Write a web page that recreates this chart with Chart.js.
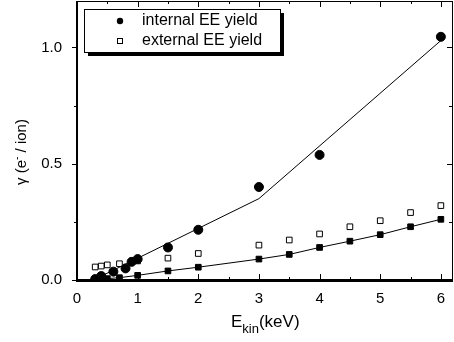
<!DOCTYPE html>
<html>
<head>
<meta charset="utf-8">
<script src="https://cdn.jsdelivr.net/npm/chart.js@4"></script>
<style>
  html, body { margin: 0; padding: 0; background: #fff; }
  #wrap { width: 454px; height: 342px; position: relative; }
</style>
</head>
<body>
<div id="wrap"><canvas id="c"></canvas></div>
<script>
// ── DATA ──────────────────────────────────────────────────────────
const intX = [0.3, 0.4, 0.6, 0.8, 0.9, 1.0, 1.5, 2, 3, 4, 6];
const intY = [0.004, 0.017, 0.036, 0.05, 0.078, 0.09, 0.14, 0.216, 0.40, 0.538, 1.046];

const extX = [0.3, 0.4, 0.5, 0.7, 1.0, 1.5, 2, 3, 3.5, 4, 4.5, 5, 5.5, 6];
const extY = [0.056, 0.06, 0.065, 0.07, 0.082, 0.094, 0.114, 0.15, 0.172, 0.198, 0.229, 0.255, 0.29, 0.32];

const sqX = [0.3, 0.4, 0.5, 0.7, 1.0, 1.5, 2, 3, 3.5, 4, 4.5, 5, 5.5, 6];
const sqY = [0.0, 0.004, 0.006, 0.01, 0.02, 0.039, 0.055, 0.09, 0.11, 0.14, 0.167, 0.195, 0.229, 0.261];

const fitX = [0.27, 3, 6];
const fitY = [0, 0.35, 1.03];

const xTicks = [0, 1, 2, 3, 4, 5, 6];
const yTicks = [0, 0.5, 1.0];
const legendLabels = ['internal EE yield', 'external EE yield'];

const pts = (xs, ys) => xs.map((x, i) => ({ x, y: ys[i] }));
const FONT = '"Liberation Sans", Arial, sans-serif';

// ── FRAME, TICKS, LEGEND, TITLES ─────────────────────────────────
const decor = {
  id: 'decor',
  afterDraw(chart) {
    const { ctx, chartArea: a, scales: { x, y } } = chart;
    ctx.save();
    ctx.strokeStyle = '#000';
    ctx.lineWidth = 1;
    ctx.strokeRect(a.left + 0.5, a.top + 0.5, a.right - a.left - 1, a.bottom - a.top - 1);
    ctx.lineWidth = 2;
    ctx.beginPath();
    ctx.moveTo(a.left, a.top); ctx.lineTo(a.left, a.bottom + 1); ctx.lineTo(a.right, a.bottom + 1);
    ctx.stroke();

    ctx.lineWidth = 1;
    ctx.beginPath();
    for (let v = 0; v <= 6.01; v += 0.5) {
      const px = Math.round(x.getPixelForValue(v)) + 0.5;
      const len = Number.isInteger(v) ? 6 : 3;
      ctx.moveTo(px, a.bottom); ctx.lineTo(px, a.bottom - len);
      ctx.moveTo(px, a.top); ctx.lineTo(px, a.top + len);
    }
    for (let v = 0; v <= 1.01; v += 0.25) {
      const py = Math.round(y.getPixelForValue(v)) + 0.5;
      const len = Math.abs(v * 2 - Math.round(v * 2)) < 1e-6 ? 5 : 3;
      ctx.moveTo(a.left, py); ctx.lineTo(a.left - len, py);
      ctx.moveTo(a.right, py); ctx.lineTo(a.right - len - 1, py);
    }
    ctx.stroke();

    // legend box with shadow
    const bx = 84, by = 9, bw = 196, bh = 43;
    ctx.fillStyle = '#000';
    ctx.fillRect(bx + 4, by + 4, bw, bh);
    ctx.fillStyle = '#fff';
    ctx.fillRect(bx, by, bw, bh);
    ctx.strokeRect(bx + 0.5, by + 0.5, bw, bh);

    ctx.fillStyle = '#000';
    ctx.beginPath();
    ctx.arc(120, 21, 3.2, 0, Math.PI * 2);
    ctx.fill();
    ctx.strokeRect(117.5, 38.5, 5, 5);

    ctx.font = '16px ' + FONT;
    ctx.textBaseline = 'middle';
    ctx.textAlign = 'left';
    ctx.fillText(legendLabels[0], 142, 21);
    ctx.fillText(legendLabels[1], 142, 41);

    // x title with subscript
    ctx.font = '17px ' + FONT;
    ctx.textBaseline = 'alphabetic';
    let tx = 231;
    ctx.fillText('E', tx, 327); tx += ctx.measureText('E').width;
    ctx.font = '13px ' + FONT;
    ctx.fillText('kin', tx, 333); tx += ctx.measureText('kin').width;
    ctx.font = '17px ' + FONT;
    ctx.fillText('(keV)', tx, 327);

    // y title with superscript
    ctx.translate(21, 152);
    ctx.rotate(-Math.PI / 2);
    const p1 = 'γ (e', p2 = ' / ion)';
    ctx.font = '15px ' + FONT;
    const w1 = ctx.measureText(p1).width;
    ctx.font = '10px ' + FONT;
    const ws = ctx.measureText('-').width;
    ctx.font = '15px ' + FONT;
    const w2 = ctx.measureText(p2).width;
    let sx = -(w1 + ws + w2) / 2;
    ctx.fillText(p1, sx, 5); sx += w1;
    ctx.font = '10px ' + FONT;
    ctx.fillText('-', sx, -1); sx += ws;
    ctx.font = '15px ' + FONT;
    ctx.fillText(p2, sx, 5);
    ctx.restore();
  }
};

new Chart(document.getElementById('c'), {
  type: 'scatter',
  data: {
    datasets: [
      { label: 'fit', data: pts(fitX, fitY), showLine: true, borderColor: '#000',
        borderWidth: 1, pointRadius: 0, order: 3 },
      { label: 'sq', data: pts(sqX, sqY), showLine: true, borderColor: '#000',
        borderWidth: 1, pointStyle: 'rect', pointRadius: 4, backgroundColor: '#000', order: 2 },
      { label: legendLabels[1], data: pts(extX, extY), pointStyle: 'rect', pointRadius: 4,
        backgroundColor: '#fff', borderColor: '#000', borderWidth: 1, order: 1 },
      { label: legendLabels[0], data: pts(intX, intY), pointStyle: 'circle', pointRadius: 4.5,
        backgroundColor: '#000', borderColor: '#000', order: 0 },
    ]
  },
  plugins: [decor],
  options: {
    responsive: true,
    maintainAspectRatio: false,
    animation: false,
    layout: { autoPadding: false, padding: { top: 1, right: 1, left: 0, bottom: 0 } },
    plugins: { legend: { display: false }, tooltip: { enabled: false } },
    scales: {
      x: {
        type: 'linear', min: 0, max: 6.2,
        grid: { display: false }, border: { display: false },
        afterFit: s => { s.height = 62; s.paddingLeft = 0; s.paddingRight = 0; },
        afterBuildTicks: s => { s.ticks = xTicks.map(v => ({ value: v })); },
        ticks: { color: '#000', font: { size: 15, family: FONT }, padding: 2,
                 callback: v => String(v) }
      },
      y: {
        type: 'linear', min: 0, max: 1.2,
        grid: { display: false }, border: { display: false },
        afterFit: s => { s.width = 77; s.paddingTop = 0; s.paddingBottom = 0; },
        afterBuildTicks: s => { s.ticks = yTicks.map(v => ({ value: v })); },
        ticks: { color: '#000', font: { size: 15, family: FONT }, padding: 7,
                 callback: v => v.toFixed(1) }
      }
    }
  }
});
</script>
</body>
</html>
